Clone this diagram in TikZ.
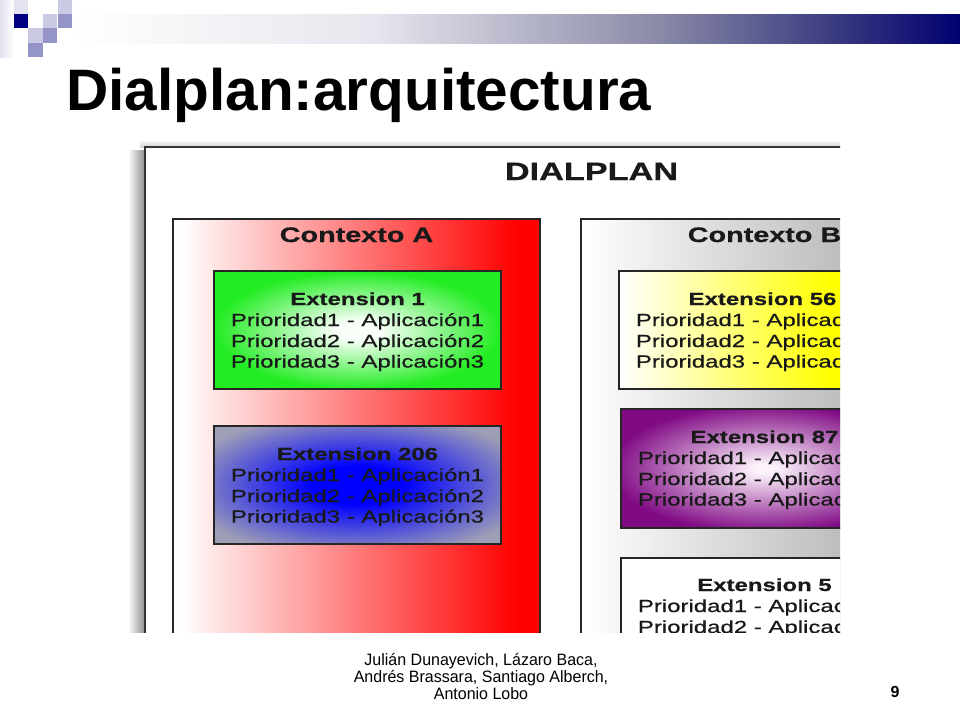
\documentclass[tikz,border=0pt]{standalone}
\usepackage{fontspec}
\setmainfont{Liberation Sans}
\newfontfamily\diafont[FakeStretch=1.37,FakeBold=0.7]{Liberation Sans}
\newfontfamily\footfont[FakeStretch=0.97]{Liberation Sans}
\definecolor{barA}{HTML}{E6E6EE}
\definecolor{barB}{HTML}{8A8AA8}
\definecolor{barC}{HTML}{3A3A80}
\definecolor{barD}{HTML}{000070}
\definecolor{sqnavy}{HTML}{000080}
\definecolor{sqlight}{HTML}{CACAE4}
\definecolor{sqpale}{HTML}{E2E2F0}
\definecolor{sqmid}{HTML}{9494C8}
\definecolor{pureW}{HTML}{FFFFFF}
\definecolor{greencore}{HTML}{F8FFF8}
\definecolor{extgreen}{HTML}{22EC22}
\definecolor{extblue}{HTML}{0000FF}
\definecolor{extbluegray}{HTML}{9E9EB6}
\definecolor{extpurple}{HTML}{800A84}
\definecolor{purplecore}{HTML}{FCF2FC}
\definecolor{extyellow}{HTML}{FFFF00}
\definecolor{ctxred}{HTML}{FF0000}
\definecolor{ctxgray}{HTML}{A2A2A2}
\pgfdeclarehorizontalshading{barshade}{50bp}{color(0bp)=(pureW); color(25bp)=(pureW); color(42bp)=(barA); color(58bp)=(barB); color(68bp)=(barC); color(75bp)=(barD); color(100bp)=(barD)}
\pgfdeclarehorizontalshading{ctxAshade}{50bp}{color(0bp)=(pureW); color(26bp)=(pureW); color(72bp)=(ctxred); color(100bp)=(ctxred)}
\pgfdeclarehorizontalshading{ctxBshade}{50bp}{color(0bp)=(pureW); color(25bp)=(pureW); color(75bp)=(ctxgray); color(100bp)=(ctxgray)}
\pgfdeclarehorizontalshading{yellowshade}{50bp}{color(0bp)=(pureW); color(25bp)=(pureW); color(62bp)=(extyellow); color(100bp)=(extyellow)}
\pgfdeclareradialshading{greenglow}{\pgfpoint{0bp}{0bp}}{color(0bp)=(greencore); color(4bp)=(greencore); color(25bp)=(extgreen); color(50bp)=(extgreen)}
\pgfdeclareradialshading{blueglow}{\pgfpoint{0bp}{0bp}}{color(0bp)=(extblue); color(8bp)=(extblue); color(31bp)=(extbluegray); color(50bp)=(extbluegray)}
\pgfdeclareradialshading{purpleglow}{\pgfpoint{0bp}{0bp}}{color(0bp)=(purplecore); color(2bp)=(purplecore); color(27bp)=(extpurple); color(50bp)=(extpurple)}
\begin{document}
\begin{tikzpicture}[x=1pt,y=-1pt,
  boxline/.style={draw=black!85, line width=1.6pt},
  heading/.style={font=\diafont\bfseries\fontsize{17.5}{20}\selectfont, anchor=base, inner sep=0pt, text=black!90},
  prio/.style={font=\diafont\fontsize{17.5}{20}\selectfont, anchor=base, inner sep=0pt, text=black!90},
  ctxlabel/.style={font=\diafont\bfseries\fontsize{21}{24}\selectfont, anchor=base, inner sep=0pt, text=black!90},
  foot/.style={font=\footfont\fontsize{16.5}{19}\selectfont, anchor=base, inner sep=0pt},
]
\useasboundingbox (0,0) rectangle (960,720);
\fill[white] (0,0) rectangle (960,720);
% top decoration
\shade[left color=sqpale, right color=white] (0,0) rectangle (14,57);
\fill[sqpale] (14,0) rectangle (28,14);
\fill[sqlight] (58,0) rectangle (72,14);
\fill[sqnavy] (14,14) rectangle (28,28);
\fill[sqlight] (43,14) rectangle (57,28);
\fill[sqmid] (58,14) rectangle (72,28);
\fill[sqlight] (28,28) rectangle (43,43);
\fill[sqmid] (43,28) rectangle (57,43);
\fill[sqmid] (28,43) rectangle (43,57);
\shade[shading=barshade] (72,14) rectangle (960,43);
% title
\node[anchor=base west, inner sep=0pt, font=\bfseries\fontsize{58.5}{70}\selectfont] (title) at (66,110) {Dialplan:arquitectura};
% diagram
\begin{scope}
\clip (118,130) rectangle (840,632);
\shade[left color=white, right color=black!45] (128,150) rectangle (145,700);
\shade[top color=white, bottom color=black!18] (140,140) rectangle (1040,147);
\draw[draw=black!80, line width=2pt, fill=white] (145,147) rectangle (1038,800);
\node[font=\diafont\bfseries\fontsize{25}{30}\selectfont, anchor=base, inner sep=0pt, text=black!90] (dialplan) at (591.5,180) {DIALPLAN};
% contexto A
\shadedraw[shading=ctxAshade, boxline] (173,219) rectangle (540,800);
\node[ctxlabel] (ctxA) at (356.5,242) {Contexto A};
\shadedraw[shading=greenglow, boxline] (214,271) rectangle (501,389);
\node[heading] (e1h) at (357.5,305) {Extension 1};
\node[prio] (e1a) at (357.5,326) {Prioridad1 - Aplicación1};
\node[prio] (e1b) at (357.5,347) {Prioridad2 - Aplicación2};
\node[prio] (e1c) at (357.5,367.5) {Prioridad3 - Aplicación3};
\shadedraw[shading=blueglow, boxline] (214,426) rectangle (501,544);
\node[heading] (e2h) at (357.5,460) {Extension 206};
\node[prio] (e2a) at (357.5,481) {Prioridad1 - Aplicación1};
\node[prio] (e2b) at (357.5,502) {Prioridad2 - Aplicación2};
\node[prio] (e2c) at (357.5,522.5) {Prioridad3 - Aplicación3};
% contexto B
\shadedraw[shading=ctxBshade, boxline] (581,219) rectangle (948,800);
\node[ctxlabel] (ctxB) at (764.5,242) {Contexto B};
\shadedraw[shading=yellowshade, boxline] (619,271) rectangle (906,389);
\node[heading] (e3h) at (762.5,305) {Extension 56};
\node[prio] (e3a) at (762.5,326) {Prioridad1 - Aplicación1};
\node[prio] (e3b) at (762.5,347) {Prioridad2 - Aplicación2};
\node[prio] (e3c) at (762.5,367.5) {Prioridad3 - Aplicación3};
\shadedraw[shading=purpleglow, boxline] (621,409) rectangle (908,528);
\node[heading] (e4h) at (764.5,443) {Extension 87};
\node[prio] (e4a) at (764.5,464) {Prioridad1 - Aplicación1};
\node[prio] (e4b) at (764.5,485) {Prioridad2 - Aplicación2};
\node[prio] (e4c) at (764.5,505.5) {Prioridad3 - Aplicación3};
\draw[boxline, fill=white] (621,558) rectangle (908,676);
\node[heading] (e5h) at (764.5,591) {Extension 5};
\node[prio] (e5a) at (764.5,612) {Prioridad1 - Aplicación1};
\node[prio] (e5b) at (764.5,633) {Prioridad2 - Aplicación2};
\end{scope}
% footer
\node[foot] (f1) at (481,665) {Julián Dunayevich, Lázaro Baca,};
\node[foot] (f2) at (481,682) {Andrés Brassara, Santiago Alberch,};
\node[foot] (f3) at (481,699) {Antonio Lobo};
\node[font=\bfseries\fontsize{16}{19}\selectfont, anchor=base, inner sep=0pt] (pagenum) at (895,697) {9};
\end{tikzpicture}
\end{document}
